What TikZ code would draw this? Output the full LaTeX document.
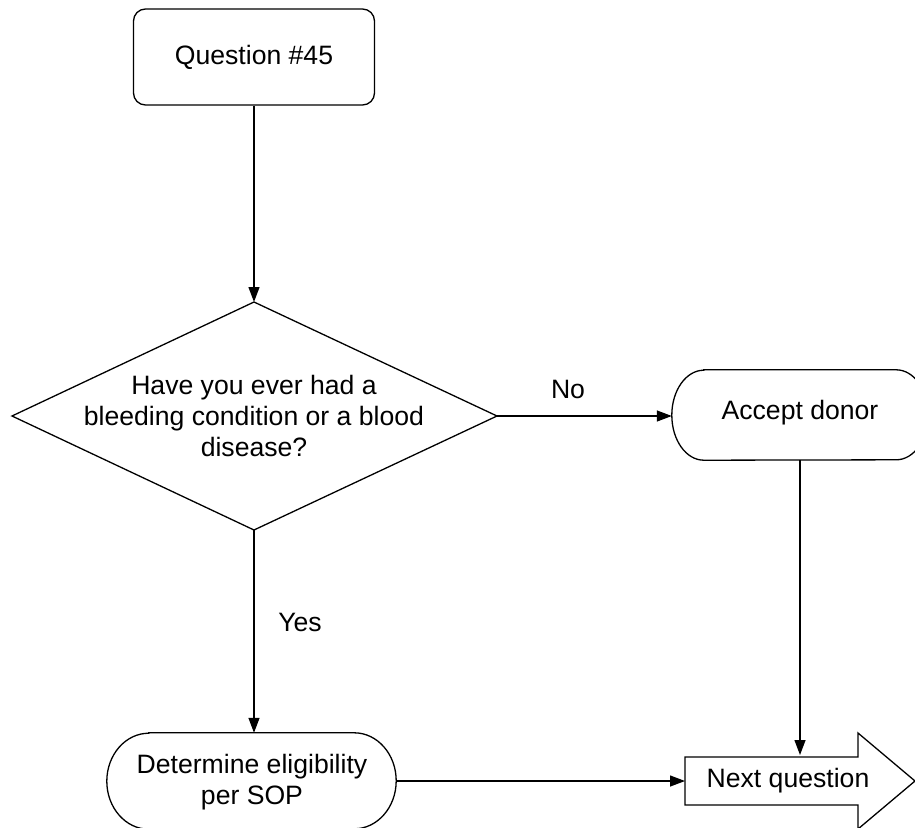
\documentclass[tikz,border=0pt]{standalone}
\usepackage{fontspec}
\setmainfont{Liberation Sans}
\usetikzlibrary{arrows.meta}
\begin{document}
\begin{tikzpicture}[x=1pt,y=-1pt,
  font=\fontsize{26.6}{31}\selectfont,
  ln/.style={line width=1.3pt},
  arr/.style={ln,-{Triangle[length=15pt,width=11pt]}},
  txt/.style={align=center,inner sep=0pt},
  lbl/.style={inner sep=0pt}]
\useasboundingbox (0,0) rectangle (915,827);
\clip (0,0) rectangle (915,827);
% Question box
\node[draw,ln,rounded corners=12pt,minimum width=241pt,minimum height=96pt,inner sep=0pt] (q) at (254,57) {Question \#45};
% Diamond
\coordinate (dT) at (254,302);
\coordinate (dR) at (497,416);
\coordinate (dB) at (254,530);
\coordinate (dL) at (12,416);
\draw[ln,line join=miter] (dT) -- (dR) -- (dB) -- (dL) -- cycle;
\node[txt] (d) at (254,416) {Have you ever had a\\bleeding condition or a blood\\disease?};
% Accept donor
\node[txt,minimum width=256pt,minimum height=90pt] (a) at (800,415) {};
\node[txt] (at) at (800,413) {Accept donor};
\draw[ln] ([xshift=32pt]a.north west) -- ([xshift=-32pt]a.north east)
  arc[start angle=90,end angle=-90,x radius=32pt,y radius=45pt]
  -- ([xshift=32pt]a.south west)
  arc[start angle=270,end angle=90,x radius=32pt,y radius=45pt] -- cycle;
% Determine eligibility
\node[txt,minimum width=289pt,minimum height=96pt] (e) at (251.5,781) {};
\node[txt] (et) at (252,782) {Determine eligibility\\per SOP};
\draw[ln] ([xshift=42pt]e.north west) -- ([xshift=-42pt]e.north east)
  arc[start angle=90,end angle=-90,x radius=42pt,y radius=48pt]
  -- ([xshift=42pt]e.south west)
  arc[start angle=270,end angle=90,x radius=42pt,y radius=48pt] -- cycle;
% Next question arrow shape
\draw[ln,line join=miter] (685,757) -- (858,757) -- (858,733) -- (915,781) -- (858,829) -- (858,805) -- (685,805) -- cycle;
\node[txt] (n) at (788,781) {Next question};
\coordinate (nL) at (685,781);
\coordinate (nT) at (800,755);
% Connectors
\draw[arr] (q.south) -- (dT);
\draw[arr] (dR) -- (dR -| a.west);
\draw[arr] (dB) -- (dB |- e.north);
\draw[arr] (a.south) -- (nT);
\draw[arr] (e.east) -- (nL);
% Labels
\node[lbl] (no) at (568,389) {No};
\node[lbl] (yes) at (300,622) {Yes};
\end{tikzpicture}
\end{document}
